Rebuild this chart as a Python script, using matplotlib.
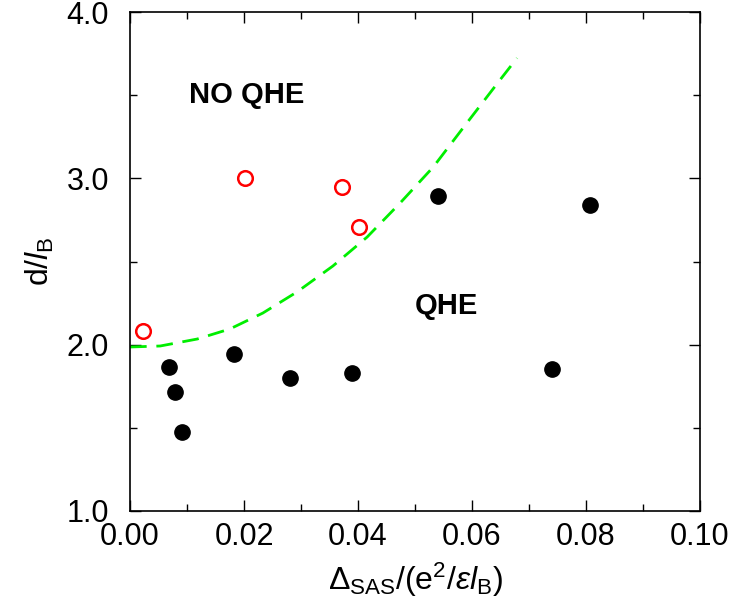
import matplotlib
matplotlib.use("Agg")
import matplotlib.pyplot as plt
from matplotlib.ticker import MultipleLocator, FormatStrFormatter

plt.rcParams['font.family'] = ['Liberation Sans', 'DejaVu Sans']
plt.rcParams['mathtext.fontset'] = 'custom'
plt.rcParams['mathtext.rm'] = 'Liberation Sans'
plt.rcParams['mathtext.it'] = 'Liberation Sans:italic'

# QHE (filled) points
qhe_x = [0.0068, 0.0079, 0.0091, 0.0182, 0.0281, 0.0389, 0.0540, 0.0740, 0.0807]
qhe_y = [1.865, 1.715, 1.474, 1.944, 1.799, 1.829, 2.894, 1.853, 2.840]

# NO QHE (open) points
noqhe_x = [0.0023, 0.0202, 0.0372, 0.0402]
noqhe_y = [2.08, 3.00, 2.95, 2.71]

# phase boundary (dashed)
curve_x = [0.0, 0.0053, 0.0118, 0.0175, 0.0233, 0.0293, 0.0356, 0.0416, 0.0474, 0.0532, 0.0591, 0.0649, 0.0679]
curve_y = [1.986, 1.992, 2.034, 2.094, 2.190, 2.317, 2.473, 2.647, 2.852, 3.068, 3.333, 3.591, 3.723]

fig = plt.figure(figsize=(7.34, 6.07), dpi=100)
ax = fig.add_axes([130/734, 1 - 511/607, 570/734, 499/607])

ax.plot(curve_x, curve_y, color='#00ee00', lw=2.0, dashes=(6, 3.5))
ax.plot(qhe_x, qhe_y, 'o', color='black', ms=11, mec='black', ls='none')
ax.plot(noqhe_x, noqhe_y, 'o', mfc='none', mec='#ff0000', mew=1.8, ms=10.5, ls='none', clip_on=False)

ax.text(0.0205, 3.5, 'NO QHE', fontsize=21, fontweight='bold', ha='center', va='center')
ax.text(0.0556, 2.23, 'QHE', fontsize=21, fontweight='bold', ha='center', va='center')

ax.set_xlim(0, 0.10)
ax.set_ylim(1.0, 4.0)
ax.xaxis.set_major_locator(MultipleLocator(0.02))
ax.xaxis.set_minor_locator(MultipleLocator(0.01))
ax.yaxis.set_major_locator(MultipleLocator(1.0))
ax.yaxis.set_minor_locator(MultipleLocator(0.5))
ax.xaxis.set_major_formatter(FormatStrFormatter('%.2f'))
ax.yaxis.set_major_formatter(FormatStrFormatter('%.1f'))
ax.tick_params(which='both', direction='in', top=True, right=True, labelsize=22, width=1)
ax.tick_params(which='major', length=8)
ax.tick_params(which='minor', length=5)
ax.tick_params(axis='x', which='major', pad=8)
ax.tick_params(axis='y', which='major', pad=15)
for s in ax.spines.values():
    s.set_linewidth(1.2)

ax.set_xlabel(r'$\Delta_{\rm SAS}/({\rm e}^2/\varepsilon \mathit{l}_{\rm B})$', fontsize=23, labelpad=6)
ax.set_ylabel(r'${\rm d}/\mathit{l}_{\rm B}$', fontsize=23, labelpad=8)

fig.savefig('out.png', dpi=100)
